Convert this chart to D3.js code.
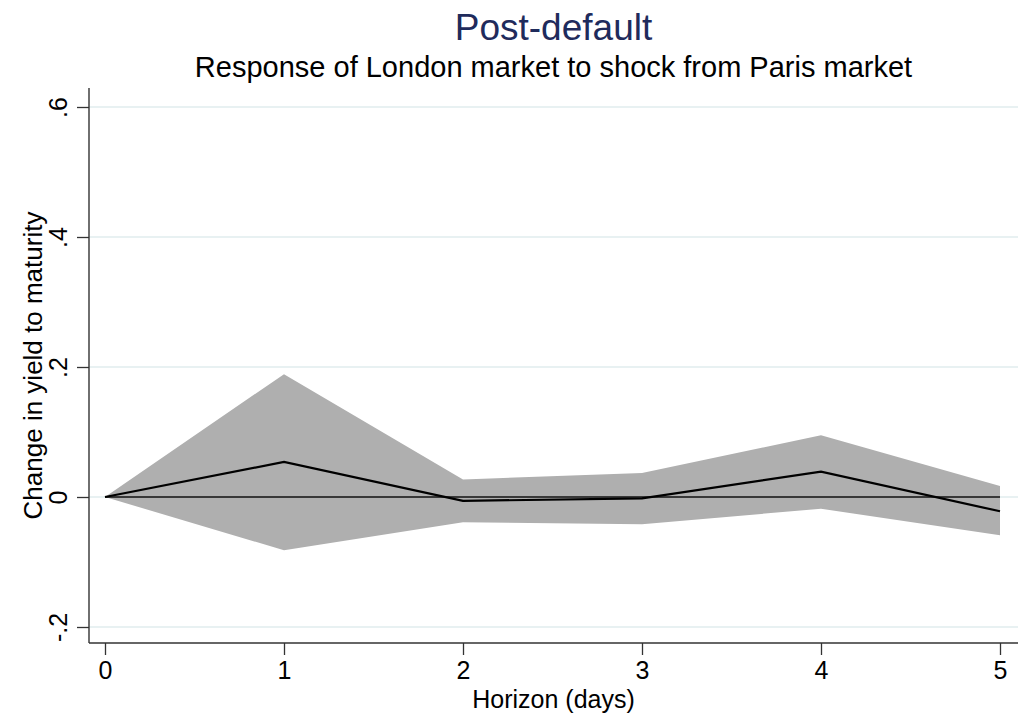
<!DOCTYPE html>
<html>
<head>
<meta charset="utf-8">
<script src="https://cdn.jsdelivr.net/npm/d3@7"></script>
<style>
  html, body { margin: 0; padding: 0; background: #ffffff; }
  svg { display: block; font-family: "Liberation Sans", Arial, Helvetica, sans-serif; }
</style>
</head>
<body>
<svg id="chart" width="1030" height="720"></svg>
<script>
// Impulse response: horizon in days, point estimate and confidence band
const horizon = [0, 1, 2, 3, 4, 5];
const response = [0, 0.054, -0.006, -0.002, 0.039, -0.022];
const upperBand = [0, 0.189, 0.027, 0.037, 0.095, 0.017];
const lowerBand = [0, -0.082, -0.039, -0.042, -0.018, -0.059];
const yTicks = [-0.2, 0, 0.2, 0.4, 0.6];
const yTickLabels = ["-.2", "0", ".2", ".4", ".6"];
const xTicks = [0, 1, 2, 3, 4, 5];

const titleText = "Post-default";
const subtitleText = "Response of London market to shock from Paris market";
const xTitle = "Horizon (days)";
const yTitle = "Change in yield to maturity";

const svg = d3.select("#chart");

// plot region
const plotLeft = 89, plotRight = 1018, plotTop = 88, plotBottom = 643;

const x = d3.scaleLinear().domain([0, 5]).range([105, 1000]);
const y = d3.scaleLinear().domain([-0.2, 0.6]).range([627, 107]);

const rows = horizon.map((h, i) => ({ h, r: response[i], lo: lowerBand[i], hi: upperBand[i] }));

// horizontal grid lines
svg.append("g")
  .selectAll("line")
  .data(yTicks)
  .join("line")
  .attr("x1", plotLeft).attr("x2", plotRight)
  .attr("y1", d => y(d)).attr("y2", d => y(d))
  .attr("stroke", "#e1ecee")
  .attr("stroke-width", 1.6);

// confidence band
svg.append("path")
  .datum(rows)
  .attr("fill", "#afafaf")
  .attr("d", d3.area().x(d => x(d.h)).y0(d => y(d.lo)).y1(d => y(d.hi)));

// zero reference line across the horizon
svg.append("path")
  .datum(rows)
  .attr("fill", "none")
  .attr("stroke", "#111")
  .attr("stroke-width", 1.3)
  .attr("d", d3.line().x(d => x(d.h)).y(() => y(0)));

// point estimate
svg.append("path")
  .datum(rows)
  .attr("fill", "none")
  .attr("stroke", "#000")
  .attr("stroke-width", 2.2)
  .attr("stroke-linejoin", "miter")
  .attr("d", d3.line().x(d => x(d.h)).y(d => y(d.r)));

// y axis
const yAxis = d3.axisLeft(y)
  .tickValues(yTicks)
  .tickFormat((d, i) => yTickLabels[i])
  .tickSize(12)
  .tickPadding(6);
const gy = svg.append("g").attr("transform", `translate(${plotLeft},0)`).call(yAxis);
gy.select(".domain").remove();
gy.selectAll(".tick line").attr("stroke", "#333").attr("stroke-width", 1.3);
gy.selectAll(".tick text")
  .attr("font-size", 25)
  .attr("fill", "#000")
  .attr("text-anchor", "middle")
  .attr("x", 0).attr("dy", 0)
  .attr("transform", "translate(-22,0) rotate(-90)");
svg.append("line")
  .attr("x1", plotLeft).attr("x2", plotLeft).attr("y1", plotTop).attr("y2", plotBottom)
  .attr("stroke", "#333").attr("stroke-width", 1.4);

// x axis
const xAxis = d3.axisBottom(x)
  .tickValues(xTicks)
  .tickFormat(d3.format("d"))
  .tickSize(12)
  .tickPadding(6);
const gx = svg.append("g").attr("transform", `translate(0,${plotBottom})`).call(xAxis);
gx.select(".domain").remove();
gx.selectAll(".tick line").attr("stroke", "#333").attr("stroke-width", 1.3);
gx.selectAll(".tick text").attr("font-size", 25).attr("fill", "#000");
svg.append("line")
  .attr("x1", plotLeft).attr("x2", plotRight).attr("y1", plotBottom).attr("y2", plotBottom)
  .attr("stroke", "#333").attr("stroke-width", 1.4);

// titles
const cx = (plotLeft + plotRight) / 2;
svg.append("text")
  .attr("x", cx).attr("y", 40)
  .attr("text-anchor", "middle")
  .attr("font-size", 37)
  .attr("fill", "#1f2b5c")
  .text(titleText);
svg.append("text")
  .attr("x", cx).attr("y", 77)
  .attr("text-anchor", "middle")
  .attr("font-size", 29)
  .attr("fill", "#000")
  .text(subtitleText);

svg.append("text")
  .attr("x", cx).attr("y", 708)
  .attr("text-anchor", "middle")
  .attr("font-size", 25)
  .attr("fill", "#000")
  .text(xTitle);

svg.append("text")
  .attr("transform", `translate(42,${(plotTop + plotBottom) / 2}) rotate(-90)`)
  .attr("text-anchor", "middle")
  .attr("font-size", 26)
  .attr("fill", "#000")
  .text(yTitle);
</script>
</body>
</html>
